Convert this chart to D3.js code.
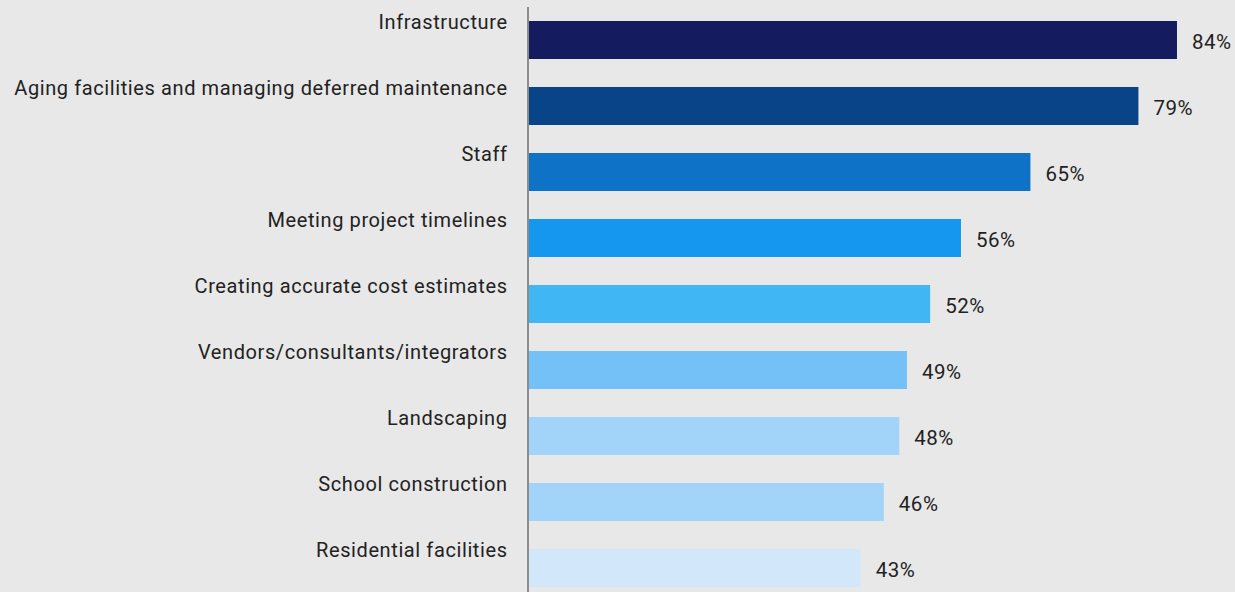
<!DOCTYPE html>
<html>
<head>
<meta charset="utf-8">
<script src="https://cdn.jsdelivr.net/npm/d3@7/dist/d3.min.js"></script>
<style>
  html, body { margin: 0; padding: 0; background: #e8e8e8; }
  svg { display: block; }
  text { font-family: Roboto, "Noto Sans", sans-serif; fill: #222; }
</style>
</head>
<body>
<svg id="chart" width="1235" height="592"></svg>
<script>
const categories = [
  "Infrastructure",
  "Aging facilities and managing deferred maintenance",
  "Staff",
  "Meeting project timelines",
  "Creating accurate cost estimates",
  "Vendors/consultants/integrators",
  "Landscaping",
  "School construction",
  "Residential facilities"
];
const values = [84, 79, 65, 56, 52, 49, 48, 46, 43];
const colors = ["#141b5e", "#0a4488", "#0e72c6", "#1697ef", "#40b6f5", "#73c1f7", "#a1d4f8", "#a1d4f8", "#d2e8fa"];

const W = 1235, H = 592;
const svg = d3.select("#chart");
svg.append("rect").attr("width", W).attr("height", H).attr("fill", "#e8e8e8");

const x = d3.scaleLinear().domain([0, 100]).range([529, 529 + 771.4]);
const y = d3.scaleBand().domain(categories).range([7, 601])
  .paddingInner(0.4242).paddingOuter(0.2121);

const data = categories.map((c, i) => ({ c, v: values[i], col: colors[i] }));

svg.selectAll("rect.bar").data(data).enter().append("rect")
  .attr("class", "bar")
  .attr("x", x(0))
  .attr("y", d => y(d.c))
  .attr("width", d => x(d.v) - x(0))
  .attr("height", y.bandwidth())
  .attr("fill", d => d.col);

svg.selectAll("text.cat").data(data).enter().append("text")
  .attr("class", "cat")
  .attr("x", 507.6)
  .attr("y", d => y(d.c) + 8)
  .attr("text-anchor", "end")
  .attr("font-size", 20)
  .attr("letter-spacing", "0.6px")
  .text(d => d.c);

svg.selectAll("text.val").data(data).enter().append("text")
  .attr("class", "val")
  .attr("x", d => x(d.v) + 15)
  .attr("y", d => y(d.c) + 28)
  .attr("font-size", 20.5)
  .attr("letter-spacing", "0.5px")
  .text(d => d.v + "%");

svg.append("line")
  .attr("x1", 528).attr("x2", 528)
  .attr("y1", 7).attr("y2", H)
  .attr("stroke", "#8c8c8c").attr("stroke-width", 2);
</script>
</body>
</html>
